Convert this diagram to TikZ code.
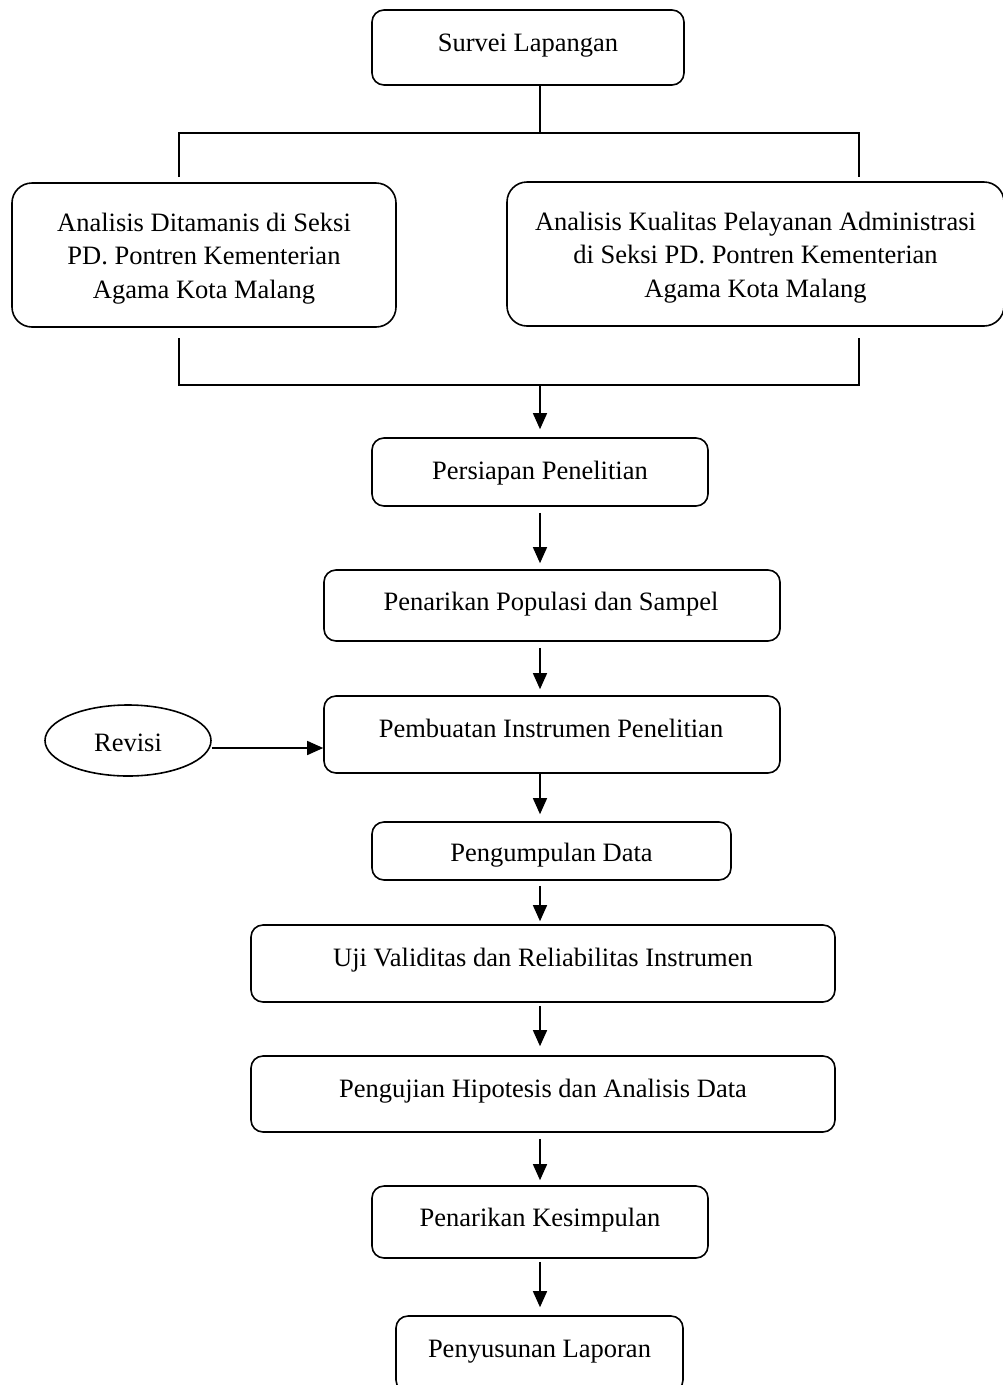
\documentclass[tikz,border=0pt]{standalone}
\usepackage{fontspec}
\setmainfont{Liberation Serif}
\usetikzlibrary{arrows.meta,shapes.geometric}
\begin{document}
\begin{tikzpicture}[x=1pt,y=-1pt,
  every node/.style={font=\fontsize{26.5}{33.5}\selectfont},
  box/.style={draw, line width=1.6pt, rounded corners=12pt, inner sep=0pt},
  bigbox/.style={box, rounded corners=20pt},
  ln/.style={line width=1.4pt},
  arr/.style={line width=1.4pt, -{Triangle[length=16pt,width=14pt]}},
]
\useasboundingbox (0,0) rectangle (1003,1385);

\node[box, minimum width=312, minimum height=75,
  label={[yshift=1.5pt]center:Survei Lapangan}] (s1) at (528,47.5) {};
\node[bigbox, minimum width=384, minimum height=144,
  label={[yshift=-3.5pt,align=center]center:Analisis Ditamanis di Seksi\\PD. Pontren Kementerian\\Agama Kota Malang}] (s2a) at (204,255) {};
\node[bigbox, minimum width=497, minimum height=144,
  label={[yshift=-3.5pt,align=center]center:Analisis Kualitas Pelayanan Administrasi\\di Seksi PD. Pontren Kementerian\\Agama Kota Malang}] (s2b) at (755.5,254) {};
\node[box, minimum width=336, minimum height=68,
  label={[yshift=-1pt]center:Persiapan Penelitian}] (s3) at (540,472) {};
\node[box, minimum width=456, minimum height=71,
  label={[yshift=1.5pt,xshift=-1pt]center:Penarikan Populasi dan Sampel}] (s4) at (552,605.5) {};
\node[box, minimum width=456, minimum height=77,
  label={[yshift=6pt,xshift=-1pt]center:Pembuatan Instrumen Penelitian}] (s5) at (552,734.5) {};
\node[draw, ellipse, line width=1.6pt, minimum width=166, minimum height=71, inner sep=0pt,
  label={[yshift=-2pt]center:Revisi}] (rev) at (128,740.5) {};
\node[box, minimum width=359, minimum height=58,
  label={[yshift=-4pt]center:Pengumpulan Data}] (s6) at (551.5,851) {};
\node[box, minimum width=584, minimum height=77,
  label={[yshift=3.5pt]center:Uji Validitas dan Reliabilitas Instrumen}] (s7) at (543,963.5) {};
\node[box, minimum width=584, minimum height=76,
  label={[yshift=3pt]center:Pengujian Hipotesis dan Analisis Data}] (s8) at (543,1094) {};
\node[box, minimum width=336, minimum height=72,
  label={[yshift=2pt]center:Penarikan Kesimpulan}] (s9) at (540,1222) {};
\node[box, minimum width=287, minimum height=76,
  label={[yshift=2pt]center:Penyusunan Laporan}] (s10) at (539.5,1354) {};

% split from survey
\coordinate (t0) at (540,133);
\coordinate (tl) at (179,133);
\coordinate (tr) at (859,133);
\draw[ln] (s1.south -| t0) -- (t0);
\draw[ln] (tl |- 0,177) -- (tl) -- (tr) -- (tr |- 0,177);

% merge
\coordinate (bl) at (179,385);
\coordinate (br) at (859,385);
\coordinate (b0) at (540,385);
\draw[ln] (bl |- 0,338) -- (bl) -- (br) -- (br |- 0,338);
\draw[arr, shorten >=8pt] (b0) -- (b0 |- s3.north);

\draw[arr, shorten <=6pt, shorten >=6pt] (s3.south -| 540,0) -- (s4.north -| 540,0);
\draw[arr, shorten <=6pt, shorten >=6pt] (s4.south -| 540,0) -- (s5.north -| 540,0);
\draw[arr, shorten >=7pt] (s5.south -| 540,0) -- (s6.north -| 540,0);
\draw[arr, shorten <=5pt, shorten >=3pt] (s6.south -| 540,0) -- (s7.north -| 540,0);
\draw[arr, shorten <=3pt, shorten >=9pt] (s7.south -| 540,0) -- (s8.north -| 540,0);
\draw[arr, shorten <=6pt, shorten >=5pt] (s8.south -| 540,0) -- (s9.north -| 540,0);
\draw[arr, shorten <=3pt, shorten >=8pt] (s9.south -| 540,0) -- (s10.north -| 540,0);

\draw[arr] ([yshift=-7.5pt]rev.east) -- ([yshift=-7.5pt]rev.east -| s5.west);
\end{tikzpicture}
\end{document}
